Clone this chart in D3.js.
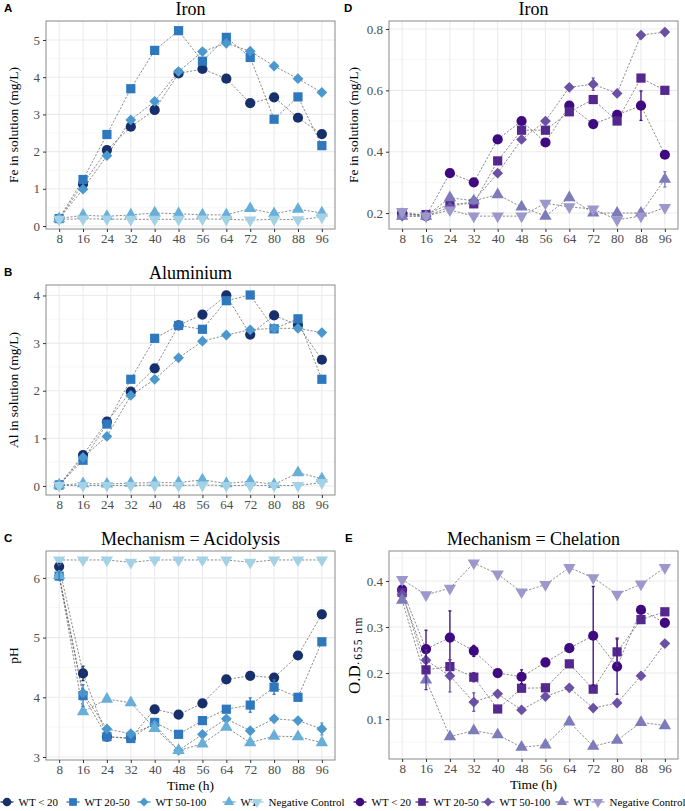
<!DOCTYPE html>
<html>
<head>
<meta charset="utf-8">
<script src="https://cdn.jsdelivr.net/npm/d3@7"></script>
<style>
  body { margin: 0; background: #fff; }
  text { font-family: "Liberation Serif", "Times New Roman", serif; }
</style>
</head>
<body>
<div id="chart"></div>
<script>
// sampling times (h)
var hours = [8, 16, 24, 32, 40, 48, 56, 64, 72, 80, 88, 96];
var groups = ["WT < 20", "WT 20-50", "WT 50-100", "WT", "Negative Control"];

var blues = ["#172f6b", "#2f78bd", "#4a98cd", "#67afd8", "#a3d1e6"];
var purples = ["#3f0a80", "#55288f", "#6a51a3", "#7e7bbb", "#9d98cb"];

// A: Fe in solution, acidolysis (rows follow groups)
var ironAcid = [
  [0.20, 1.13, 2.04, 2.67, 3.12, 4.10, 4.22, 3.96, 3.30, 3.46, 2.91, 2.47],
  [0.20, 1.25, 2.46, 3.69, 4.72, 5.25, 4.43, 5.07, 4.53, 2.87, 3.47, 2.16],
  [0.20, 0.99, 1.89, 2.85, 3.35, 4.15, 4.69, 4.91, 4.70, 4.30, 3.96, 3.59],
  [0.20, 0.29, 0.26, 0.30, 0.35, 0.33, 0.30, 0.30, 0.47, 0.33, 0.45, 0.35],
  [0.18, 0.19, 0.19, 0.18, 0.18, 0.18, 0.19, 0.18, 0.16, 0.18, 0.17, 0.24]
];

// B: Al in solution
var alAcid = [
  [0.02, 0.65, 1.35, 1.98, 2.47, 3.37, 3.60, 4.00, 3.18, 3.58, 3.38, 2.65],
  [0.02, 0.54, 1.30, 2.24, 3.10, 3.37, 3.29, 3.89, 4.01, 3.30, 3.51, 2.24],
  [0.02, 0.60, 1.04, 1.90, 2.24, 2.69, 3.04, 3.17, 3.28, 3.31, 3.31, 3.22],
  [0.02, 0.05, 0.04, 0.06, 0.07, 0.07, 0.13, 0.05, 0.10, 0.03, 0.28, 0.15],
  [0.01, 0.01, 0.01, 0.01, 0.02, 0.01, 0.02, 0.01, 0.01, 0.01, 0.01, 0.07]
];

// C: pH
var pHAcid = [
  [6.19, 4.40, 3.34, 3.32, 3.80, 3.71, 3.90, 4.30, 4.36, 4.33, 4.70, 5.39],
  [6.03, 4.03, 3.34, 3.31, 3.58, 3.38, 3.61, 3.80, 3.87, 4.17, 4.00, 4.93],
  [6.04, 4.07, 3.47, 3.39, 3.54, 3.11, 3.38, 3.64, 3.44, 3.64, 3.61, 3.47],
  [6.04, 3.76, 3.97, 3.91, 3.48, 3.11, 3.22, 3.50, 3.24, 3.35, 3.34, 3.24],
  [6.30, 6.30, 6.30, 6.26, 6.30, 6.30, 6.30, 6.30, 6.26, 6.30, 6.30, 6.30]
];
var pHErr = [
  [0.05, 0.12, 0, 0, 0, 0, 0, 0, 0, 0, 0, 0],
  [0.07, 0.18, 0.03, 0, 0, 0, 0, 0, 0.12, 0.12, 0, 0.04],
  [0, 0.05, 0, 0, 0, 0, 0, 0, 0, 0, 0, 0.10],
  [0, 0, 0, 0, 0, 0, 0, 0, 0, 0, 0, 0],
  [0, 0, 0, 0, 0, 0, 0, 0, 0, 0, 0, 0]
];

// D: Fe in solution, chelation
var ironChel = [
  [0.20, 0.19, 0.33, 0.30, 0.44, 0.50, 0.43, 0.55, 0.49, 0.52, 0.55, 0.39],
  [0.195, 0.195, 0.23, 0.23, 0.37, 0.47, 0.47, 0.53, 0.57, 0.50, 0.64, 0.60],
  [0.19, 0.19, 0.22, 0.24, 0.33, 0.44, 0.50, 0.61, 0.62, 0.59, 0.78, 0.79],
  [0.19, 0.19, 0.25, 0.24, 0.26, 0.22, 0.19, 0.25, 0.20, 0.20, 0.20, 0.31],
  [0.205, 0.19, 0.21, 0.19, 0.19, 0.19, 0.232, 0.22, 0.213, 0.178, 0.19, 0.218]
];
var ironChelErr = [
  [0, 0, 0, 0, 0, 0, 0, 0, 0, 0, 0.048, 0],
  [0, 0, 0, 0, 0, 0, 0, 0, 0, 0, 0.01, 0],
  [0, 0, 0, 0, 0, 0, 0, 0, 0.02, 0, 0, 0],
  [0, 0, 0, 0, 0, 0, 0, 0, 0, 0, 0, 0.025],
  [0.01, 0, 0, 0, 0, 0, 0, 0, 0, 0, 0, 0]
];

// E: O.D 655 nm
var odChel = [
  [0.381, 0.252, 0.277, 0.248, 0.200, 0.192, 0.223, 0.254, 0.281, 0.214, 0.337, 0.309],
  [0.375, 0.207, 0.214, 0.191, 0.122, 0.167, 0.168, 0.220, 0.165, 0.246, 0.316, 0.333],
  [0.370, 0.228, 0.194, 0.137, 0.155, 0.120, 0.149, 0.168, 0.124, 0.135, 0.194, 0.264],
  [0.358, 0.185, 0.062, 0.075, 0.066, 0.039, 0.044, 0.094, 0.041, 0.054, 0.093, 0.086],
  [0.403, 0.370, 0.384, 0.439, 0.415, 0.376, 0.392, 0.429, 0.407, 0.371, 0.393, 0.429]
];
var odErr = [
  [0, 0.041, 0.058, 0.012, 0, 0.015, 0, 0, 0.107, 0.06, 0, 0],
  [0, 0.043, 0.015, 0.01, 0, 0, 0, 0, 0, 0.03, 0, 0],
  [0, 0, 0.035, 0.02, 0, 0, 0, 0, 0, 0, 0, 0],
  [0, 0, 0, 0, 0, 0, 0, 0, 0, 0, 0, 0],
  [0, 0, 0, 0, 0, 0, 0, 0, 0, 0, 0, 0]
];

var W = 685, H = 811;
var svg = d3.select("#chart").append("svg")
  .attr("width", W).attr("height", H);

// circle, square, diamond, up triangle, down triangle
var shapes = [
  { type: d3.symbolCircle, size: 82, rot: 0 },
  { type: d3.symbolSquare, size: 85, rot: 0 },
  { type: d3.symbolSquare, size: 58, rot: 45 },
  { type: d3.symbolTriangle, size: 66, rot: 0 },
  { type: d3.symbolTriangle, size: 66, rot: 180 }
];

function drawPanel(p) {
  var x = d3.scaleLinear().domain([3.6, 100.4]).range([p.left, p.right]);
  var y = d3.scaleLinear().domain(p.yDomain).range([p.bottom, p.top]);
  var g = svg.append("g");

  // grid
  var step = p.yTicks[1] - p.yTicks[0];
  var minor = [p.yTicks[0] - step / 2].concat(p.yTicks.map(function(t) { return t + step / 2; }))
    .filter(function(v) { return v > p.yDomain[0] && v < p.yDomain[1]; });
  g.selectAll(".minor").data(minor).join("line")
    .attr("x1", p.left).attr("x2", p.right)
    .attr("y1", function(d) { return y(d); }).attr("y2", function(d) { return y(d); })
    .attr("stroke", "#f2f2f2").attr("stroke-width", 0.6);
  g.selectAll(".hmajor").data(p.yTicks).join("line")
    .attr("x1", p.left).attr("x2", p.right)
    .attr("y1", function(d) { return y(d); }).attr("y2", function(d) { return y(d); })
    .attr("stroke", "#ebebeb").attr("stroke-width", 1.1);
  g.selectAll(".vmajor").data(hours).join("line")
    .attr("y1", p.top).attr("y2", p.bottom)
    .attr("x1", function(d) { return x(d); }).attr("x2", function(d) { return x(d); })
    .attr("stroke", "#ebebeb").attr("stroke-width", 1.1);

  // connecting lines
  var line = d3.line()
    .x(function(d, i) { return x(hours[i]); })
    .y(function(d) { return y(d); });
  p.data.forEach(function(s) {
    g.append("path").attr("d", line(s))
      .attr("fill", "none").attr("stroke", "#5a5a5a")
      .attr("stroke-width", 0.7).attr("stroke-dasharray", "2.2,1.6");
  });

  // points
  p.data.forEach(function(s, k) {
    var sym = d3.symbol().type(shapes[k].type).size(shapes[k].size);
    g.selectAll(null).data(s).join("path")
      .attr("d", sym)
      .attr("transform", function(d, i) {
        return "translate(" + x(hours[i]) + "," + y(d) + ") rotate(" + shapes[k].rot + ")";
      })
      .attr("fill", p.colors[k]);
  });

  // error bars
  if (p.err) {
    p.err.forEach(function(e, k) {
      var pts = e.map(function(v, i) { return { h: hours[i], m: p.data[k][i], e: v }; })
        .filter(function(d) { return d.e > 0; });
      var eg = g.append("g").attr("stroke", p.colors[k]).attr("stroke-width", 1.3);
      pts.forEach(function(d) {
        var cx = x(d.h);
        eg.append("line").attr("x1", cx).attr("x2", cx)
          .attr("y1", y(d.m - d.e)).attr("y2", y(d.m + d.e));
        [d.m - d.e, d.m + d.e].forEach(function(v) {
          eg.append("line").attr("x1", cx - 1.5).attr("x2", cx + 1.5)
            .attr("y1", y(v)).attr("y2", y(v));
        });
      });
    });
  }

  // border
  g.append("rect")
    .attr("x", p.left).attr("y", p.top)
    .attr("width", p.right - p.left).attr("height", p.bottom - p.top)
    .attr("fill", "none").attr("stroke", "#8a8a8a").attr("stroke-width", 1);

  // axes
  var xAxis = g.append("g")
    .attr("transform", "translate(0," + p.bottom + ")")
    .call(d3.axisBottom(x).tickValues(hours).tickSize(3).tickPadding(2));
  var yAxis = g.append("g")
    .attr("transform", "translate(" + p.left + ",0)")
    .call(d3.axisLeft(y).tickValues(p.yTicks).tickFormat(d3.format(p.fmt)).tickSize(3).tickPadding(3));
  [xAxis, yAxis].forEach(function(a) {
    a.select(".domain").remove();
    a.attr("font-family", null).attr("font-size", null);
    a.selectAll(".tick line").attr("stroke", "#333");
    a.selectAll(".tick text").attr("fill", "#4d4d4d").style("font-size", "13px");
  });

  // titles and labels
  var cx = (p.left + p.right) / 2;
  g.append("text").attr("x", cx).attr("y", p.top - 6)
    .attr("text-anchor", "middle").style("font-size", "18px").attr("fill", "#000")
    .text(p.title);
  g.append("text").attr("x", p.letterX).attr("y", p.top - 9)
    .style("font-family", "'Liberation Sans', Arial, sans-serif")
    .style("font-weight", "bold").style("font-size", "11.5px")
    .text(p.letter);

  var cy = (p.top + p.bottom) / 2;
  var yl = g.append("text")
    .attr("transform", "translate(" + p.yLabelX + "," + cy + ") rotate(-90)")
    .attr("text-anchor", "middle").style("font-size", "13.5px");
  if (p.yLabel === "OD") {
    yl.append("tspan").style("font-size", "17px").text("O.D");
    yl.append("tspan").attr("dy", 2).style("font-size", "11.5px")
      .style("letter-spacing", "1.5px").text("·655 nm");
  } else {
    yl.text(p.yLabel);
  }

  if (p.xLabel) {
    g.append("text").attr("x", cx).attr("y", p.bottom + 30)
      .attr("text-anchor", "middle").style("font-size", "13.5px")
      .text(p.xLabel);
  }
}

drawPanel({ left: 46, right: 335, top: 21, bottom: 229, yDomain: [-0.08, 5.51],
  yTicks: [0, 1, 2, 3, 4, 5], fmt: "d", data: ironAcid, colors: blues,
  title: "Iron", letter: "A", letterX: 4, yLabel: "Fe in solution (mg/L)", yLabelX: 17.5 });

drawPanel({ left: 46, right: 335, top: 285, bottom: 495, yDomain: [-0.19, 4.22],
  yTicks: [0, 1, 2, 3, 4], fmt: "d", data: alAcid, colors: blues,
  title: "Aluminium", letter: "B", letterX: 4, yLabel: "Al in solution (mg/L)", yLabelX: 17.5 });

drawPanel({ left: 46, right: 335, top: 551, bottom: 760, yDomain: [2.95, 6.45],
  yTicks: [3, 4, 5, 6], fmt: "d", data: pHAcid, err: pHErr, colors: blues,
  title: "Mechanism = Acidolysis", letter: "C", letterX: 4, yLabel: "pH", yLabelX: 17.5,
  xLabel: "Time (h)" });

drawPanel({ left: 389, right: 678, top: 21, bottom: 229, yDomain: [0.148, 0.826],
  yTicks: [0.2, 0.4, 0.6, 0.8], fmt: ".1f", data: ironChel, err: ironChelErr, colors: purples,
  title: "Iron", letter: "D", letterX: 344, yLabel: "Fe in solution (mg/L)", yLabelX: 357.5 });

drawPanel({ left: 389, right: 678, top: 551, bottom: 759, yDomain: [0.0134, 0.465],
  yTicks: [0.1, 0.2, 0.3, 0.4], fmt: ".1f", data: odChel, err: odErr, colors: purples,
  title: "Mechanism = Chelation", letter: "E", letterX: 345, yLabel: "OD", yLabelX: 360,
  xLabel: "Time (h)" });

// legend
var legendX = [7, 73, 144, 229, 257, 360, 422, 488, 562, 598];
var legendY = 802;
var legend = svg.append("g");
[blues, purples].forEach(function(pal, set) {
  groups.forEach(function(name, k) {
    var cx = legendX[set * 5 + k];
    var item = legend.append("g");
    item.append("line").attr("x1", cx - 6.5).attr("x2", cx + 6.5)
      .attr("y1", legendY).attr("y2", legendY)
      .attr("stroke", pal[k]).attr("stroke-width", 1.3);
    item.append("path")
      .attr("d", d3.symbol().type(shapes[k].type).size(shapes[k].size * 0.7)())
      .attr("transform", "translate(" + cx + "," + legendY + ") rotate(" + shapes[k].rot + ")")
      .attr("fill", pal[k]);
    item.append("text").attr("x", cx + 11.5).attr("y", legendY + 4)
      .style("font-size", "11px").text(name);
  });
});
</script>
</body>
</html>
